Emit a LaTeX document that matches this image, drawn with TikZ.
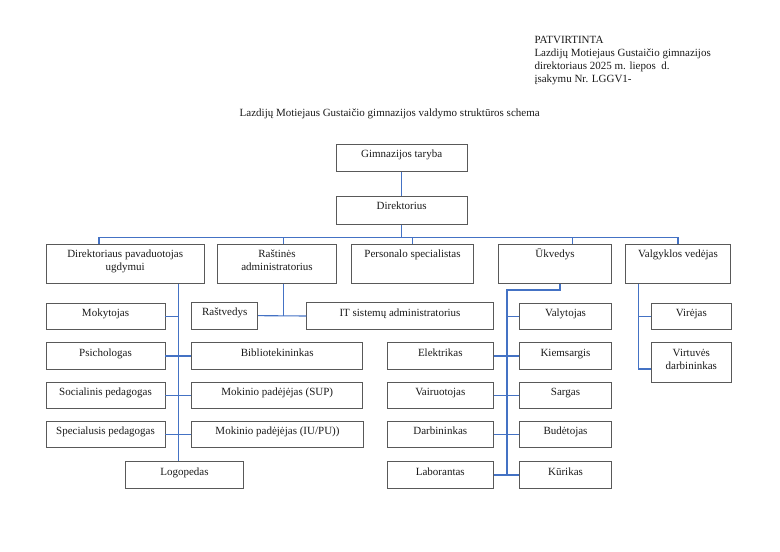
\documentclass[tikz,border=0pt]{standalone}
\usepackage{fontspec}
\setmainfont{Liberation Serif}
\usetikzlibrary{fit,calc}
\definecolor{lineblue}{HTML}{4472C4}
\definecolor{boxgray}{HTML}{595959}
\definecolor{textcol}{HTML}{1A1A1A}
\newcommand\orgbox[6]{%
  \node[box, fit={(#2,#3) (#4,#5)}] (#1) {};
  \node[txt] (#1-t) at ($(#1.north)+(0,14)$) {#6};}
\newcommand\orgboxii[6]{%
  \node[box, fit={(#2,#3) (#4,#5)}] (#1) {};
  \node[txt] (#1-t) at ($(#1.north)+(0,27)$) {#6};}
\begin{document}
\begin{tikzpicture}[x=1pt,y=-1pt,
  box/.style={draw=boxgray, line width=0.8pt, inner sep=0pt},
  conn/.style={draw=lineblue, line width=1.1pt},
  txt/.style={font=\fontsize{11}{13}\selectfont, text=textcol, inner sep=0pt, anchor=base, align=center},
  hdr/.style={font=\fontsize{11}{13}\selectfont, text=textcol, inner sep=0pt, anchor=base west}]
\useasboundingbox (0,0) rectangle (780,552);

% header
\node[hdr] (h1) at (534.3,43.3) {PATVIRTINTA};
\node[hdr] (h2) at (534.3,56.3) {Lazdijų Motiejaus Gustaičio gimnazijos};
\node[hdr] (h3) at (534.3,69.3) {direktoriaus 2025 m. liepos~ d.};
\node[hdr] (h4) at (534.3,82.3) {įsakymu Nr. LGGV1-};
\node[txt] (title) at (389.7,116) {Lazdijų Motiejaus Gustaičio gimnazijos valdymo struktūros schema};

% boxes
\orgbox{gt}{336}{144.3}{467.3}{171.7}{Gimnazijos taryba}
\orgbox{dir}{336}{196}{467.3}{224.3}{Direktorius}
\orgboxii{pav}{46}{244}{204.3}{283.3}{Direktoriaus pavaduotojas\\ugdymui}
\orgboxii{ras}{217.3}{244}{336.7}{283.3}{Raštinės\\administratorius}
\orgbox{per}{351.7}{244}{473.3}{283.3}{Personalo specialistas}
\orgbox{ukv}{498.3}{244}{611.7}{283.3}{Ūkvedys}
\orgbox{val}{625.3}{244}{730.7}{283.3}{Valgyklos vedėjas}

\orgbox{mok}{46}{303.3}{165}{329.3}{Mokytojas}
\orgbox{psi}{46}{342.7}{165}{369.3}{Psichologas}
\orgbox{soc}{46}{382.3}{165}{408.3}{Socialinis pedagogas}
\orgbox{spe}{46}{421.3}{165}{447.7}{Specialusis pedagogas}
\orgbox{bib}{191.7}{342.7}{362.7}{369.3}{Bibliotekininkas}
\orgbox{sup}{191.7}{382.3}{362.7}{408.3}{Mokinio padėjėjas (SUP)}
\orgbox{iu}{191.7}{421.3}{363.3}{447.7}{Mokinio padėjėjas (IU/PU))}
\orgbox{logo}{125.7}{461.7}{243.3}{488.3}{Logopedas}

\orgbox{rst}{191.7}{302.3}{257.7}{329}{Raštvedys}
\orgbox{it}{306.7}{302.7}{493.3}{329.3}{IT sistemų administratorius}

\orgbox{vly}{519.3}{303.3}{611.7}{329.3}{Valytojas}
\orgbox{kie}{519.3}{342.7}{611.7}{369.3}{Kiemsargis}
\orgbox{sar}{519.3}{382.3}{611.7}{408.3}{Sargas}
\orgbox{bud}{519.3}{421.3}{611.7}{447.7}{Budėtojas}
\orgbox{kur}{519.3}{461.7}{611.7}{488.3}{Kūrikas}
\orgbox{ele}{387.3}{342.7}{493.3}{369.3}{Elektrikas}
\orgbox{vai}{387.3}{382.3}{493.3}{408.3}{Vairuotojas}
\orgbox{dar}{387.3}{421.3}{493.3}{447.7}{Darbininkas}
\orgbox{lab}{387.3}{461.7}{493.3}{488.3}{Laborantas}

\orgbox{vir}{651.7}{303.3}{731}{329.3}{Virėjas}
\orgboxii{vdb}{651.7}{342.7}{731}{382.3}{Virtuvės\\darbininkas}

% connectors: top
\draw[conn] (gt.south) -- (dir.north);
\coordinate (bus) at (401.7,237.3);
\coordinate (busL) at (99,237.3);
\coordinate (busR) at (677.7,237.3);
\coordinate (dR) at (283.3,237.3);
\coordinate (dU) at (572.3,237.3);
\draw[conn] (dir.south) -- (dir.south |- bus);
\draw[conn] (busL) -- (busR);
\draw[conn] (busL) -- (busL |- pav.north);
\draw[conn] (dR) -- (dR |- ras.north);
\draw[conn] (per.north |- bus) -- (per.north);
\draw[conn] (dU) -- (dU |- ukv.north);
\draw[conn] (val.north |- bus) -- (val.north);

% pavaduotojas branch
\coordinate (pv) at (178.3,300);
\draw[conn] (pv |- pav.south) -- (pv |- logo.north);
\draw[conn] (mok.east) -- (mok.east -| pv);
\draw[conn] (psi.east) -- (bib.west);
\draw[conn] (soc.east) -- (sup.west);
\draw[conn] (spe.east) -- (iu.west);

% rastines branch
\coordinate (rv) at (283.3,315.7);
\draw[conn] (rv |- ras.south) -- (rv);
\draw[conn] (rst.east) -- (it.west);

% ukvedys branch
\coordinate (uk1) at (560,290);
\coordinate (uk2) at (507,290);
\draw[conn] (uk1 |- ukv.south) -- (uk1) -- (uk2) -- (uk2 |- kur.west);
\draw[conn] (vly.west) -- (vly.west -| uk2);
\draw[conn] (ele.east) -- (kie.west);
\draw[conn] (vai.east) -- (sar.west);
\draw[conn] (dar.east) -- (bud.west);
\draw[conn] (lab.east) -- (kur.west);

% valgyklos branch
\coordinate (vd) at (638.7,369);
\draw[conn] (vd |- val.south) -- (vd) -- (vd -| vdb.west);
\draw[conn] (vir.west) -- (vir.west -| vd);
\end{tikzpicture}
\end{document}
